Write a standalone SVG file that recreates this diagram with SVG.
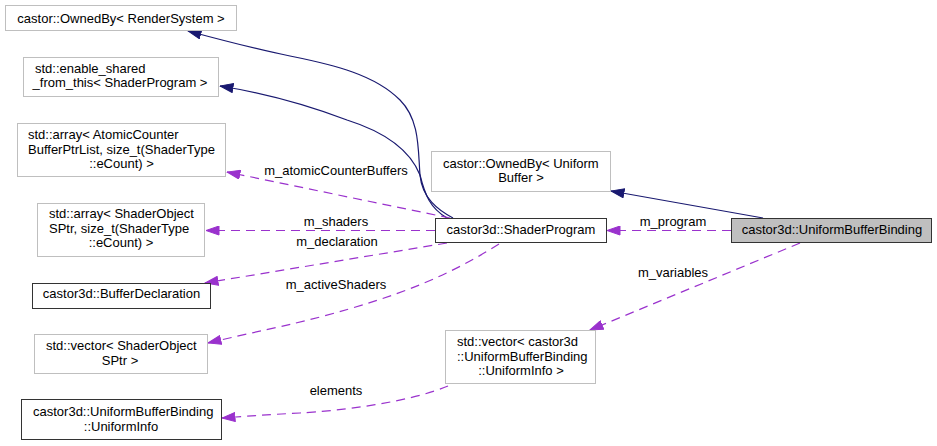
<svg xmlns="http://www.w3.org/2000/svg" width="937" height="446" viewBox="0 0 937 446">
<style>
  .n rect { fill: #ffffff; stroke: #bfbfbf; stroke-width: 1; }
  .n.doc rect { stroke: #333333; }
  .n.hl rect { fill: #bfbfbf; stroke: #333333; }
  text { font-family: "Liberation Sans", Arial, sans-serif; font-size: 13px; fill: #000000; }
  .m { text-anchor: middle; }
  .s { text-anchor: start; }
  .inh { fill: none; stroke: #191970; stroke-width: 1.2; marker-end: url(#ahNavy); }
  .use { fill: none; stroke: #9a32cd; stroke-width: 1.2; stroke-dasharray: 9,6; marker-end: url(#ahPurple); }
</style>
<defs>
  <marker id="ahNavy" markerUnits="userSpaceOnUse" viewBox="0 0 14 10" markerWidth="14" markerHeight="10" refX="13.5" refY="5" orient="auto">
    <path d="M0.5,0.5 L13.5,5 L0.5,9.5 z" fill="#191970" stroke="#191970" stroke-width="1"/>
  </marker>
  <marker id="ahPurple" markerUnits="userSpaceOnUse" viewBox="0 0 14 10" markerWidth="14" markerHeight="10" refX="13.5" refY="5" orient="auto">
    <path d="M0.5,0.5 L13.5,5 L0.5,9.5 z" fill="#9a32cd" stroke="#9a32cd" stroke-width="1"/>
  </marker>
</defs>

<g id="connectors">
  <path class="inh" d="M453,218 C438,210 422,198 420,175 C418,150 420,120 400,100 C375,75 335,65 290,56 C255,49 225,41 188,31"/>
  <path class="inh" d="M447,218 C430,208 425,195 420,175 C410,150 385,132 347,120 C310,106 270,94 220,86"/>
  <path class="inh" d="M763,218 L611,191"/>
  <path class="use" d="M731,230.5 L607,230.5"/>
  <path class="use" d="M800,243 L590,330"/>
  <path class="use" d="M448,386 C410,402 340,411 300,413 C270,414.5 250,416 222,418"/>
  <path class="use" d="M450,218 L227,172"/>
  <path class="use" d="M435,230.5 L206,230.5"/>
  <path class="use" d="M447,243 L205,283"/>
  <path class="use" d="M499,244 C450,275 400,296 320,317 C290,325 250,333 208,343"/>
  <text class="m" x="336" y="175">m_atomicCounterBuffers</text>
  <text class="m" x="336" y="226">m_shaders</text>
  <text class="m" x="337" y="246">m_declaration</text>
  <text class="m" x="336" y="289">m_activeShaders</text>
  <text class="m" x="673" y="226">m_program</text>
  <text class="m" x="673" y="277">m_variables</text>
  <text class="m" x="336" y="395">elements</text>
</g>

<g id="ownedByRenderSystem" class="n">
  <rect x="5.5" y="5.5" width="231" height="25"/>
  <text class="m" x="121" y="22.5">castor::OwnedBy&lt; RenderSystem &gt;</text>
</g>
<g id="enableSharedFromThis" class="n">
  <rect x="23.5" y="57.5" width="195" height="39"/>
  <text class="s" x="35" y="73">std::enable_shared</text>
  <text class="m" x="120" y="87">_from_this&lt; ShaderProgram &gt;</text>
</g>
<g id="arrayAtomicCounter" class="n">
  <rect x="17.5" y="123.5" width="208" height="53"/>
  <text class="s" x="28" y="139">std::array&lt; AtomicCounter</text>
  <text class="s" x="28" y="154">BufferPtrList, size_t(ShaderType</text>
  <text class="m" x="121.5" y="168">::eCount) &gt;</text>
</g>
<g id="arrayShaderObject" class="n">
  <rect x="37.5" y="203.5" width="167" height="53"/>
  <text class="s" x="49" y="218">std::array&lt; ShaderObject</text>
  <text class="s" x="49" y="233">SPtr, size_t(ShaderType</text>
  <text class="m" x="121" y="247">::eCount) &gt;</text>
</g>
<g id="bufferDeclaration" class="n doc">
  <rect x="32.5" y="283.5" width="178" height="25"/>
  <text class="m" x="121.5" y="298">castor3d::BufferDeclaration</text>
</g>
<g id="vectorShaderObject" class="n">
  <rect x="34.5" y="334.5" width="173" height="39"/>
  <text class="s" x="46" y="350">std::vector&lt; ShaderObject</text>
  <text class="m" x="120" y="365">SPtr &gt;</text>
</g>
<g id="uniformInfo" class="n doc">
  <rect x="21.5" y="399.5" width="200" height="40"/>
  <text class="s" x="33" y="416">castor3d::UniformBufferBinding</text>
  <text class="m" x="121" y="431">::UniformInfo</text>
</g>
<g id="shaderProgram" class="n doc">
  <rect x="435.5" y="218.5" width="171" height="24"/>
  <text class="m" x="521" y="234">castor3d::ShaderProgram</text>
</g>
<g id="ownedByUniformBuffer" class="n">
  <rect x="431.5" y="151.5" width="179" height="40"/>
  <text class="s" x="443" y="168">castor::OwnedBy&lt; Uniform</text>
  <text class="m" x="521" y="182">Buffer &gt;</text>
</g>
<g id="uniformBufferBinding" class="n hl">
  <rect x="731.5" y="218.5" width="200" height="24"/>
  <text class="m" x="832" y="234">castor3d::UniformBufferBinding</text>
</g>
<g id="vectorUniformInfo" class="n">
  <rect x="445.5" y="330.5" width="150" height="53"/>
  <text class="s" x="457" y="346">std::vector&lt; castor3d</text>
  <text class="s" x="457" y="361">::UniformBufferBinding</text>
  <text class="m" x="521" y="375">::UniformInfo &gt;</text>
</g>
</svg>
